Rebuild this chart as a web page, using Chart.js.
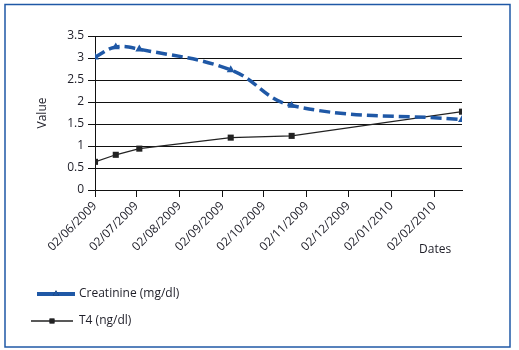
<!DOCTYPE html>
<html>
<head>
<meta charset="utf-8">
<script src="https://cdn.jsdelivr.net/npm/chart.js@4.4.1/dist/chart.umd.min.js"></script>
<style>
  html, body { margin: 0; padding: 0; background: #fff; }
</style>
</head>
<body>
<canvas id="chart" width="519" height="350"></canvas>
<script>
// sample dates and measured values
const sampleDates = ["2009-06-02", "2009-06-17", "2009-07-04", "2009-09-08", "2009-10-22", "2010-02-22"];
const creatinine = [3.02, 3.25, 3.2, 2.73, 1.92, 1.6];
const t4 = [0.64, 0.8, 0.94, 1.19, 1.23, 1.78];

// x axis tick labels (dd/mm/yyyy) and their dates
const tickLabels = ["02/06/2009", "02/07/2009", "02/08/2009", "02/09/2009", "02/10/2009",
  "02/11/2009", "02/12/2009", "02/01/2010", "02/02/2010"];
const tickDates = ["2009-06-02", "2009-07-02", "2009-08-02", "2009-09-02", "2009-10-02",
  "2009-11-02", "2009-12-02", "2010-01-02", "2010-02-02"];

const startDay = Date.UTC(2009, 5, 2);
function dayOf(s) {
  const p = s.split("-").map(Number);
  return (Date.UTC(p[0], p[1] - 1, p[2]) - startDay) / 86400000;
}
const tickDays = tickDates.map(dayOf);
const sampleDays = sampleDates.map(dayOf);

const blue = "#1f58a6";
const textColor = "#1e1e28";
const font = "'Open Sans', sans-serif";

const chartData = {
  datasets: [
    {
      label: "Creatinine (mg/dl)",
      data: sampleDays.map((d, i) => ({ x: d, y: creatinine[i] })),
      borderColor: blue,
      backgroundColor: blue,
      borderWidth: 3.5,
      borderDash: [11, 5],
      tension: 0.4,
      pointStyle: "triangle",
      pointRadius: 4.6,
      pointBorderWidth: 0,
    },
    {
      label: "T4 (ng/dl)",
      data: sampleDays.map((d, i) => ({ x: d, y: t4[i] })),
      borderColor: "#222",
      backgroundColor: "#222",
      borderWidth: 1.2,
      tension: 0,
      pointStyle: "rect",
      pointRadius: 4.3,
      pointBorderWidth: 0,
    },
  ],
};

// frame, axis titles and the legend at the bottom left
const decorations = {
  id: "decorations",
  beforeDraw(chart) {
    const ctx = chart.ctx;
    ctx.save();
    ctx.fillStyle = "#fff";
    ctx.fillRect(0, 0, chart.width, chart.height);
    ctx.strokeStyle = blue;
    ctx.lineWidth = 1.5;
    ctx.strokeRect(5, 4.5, 505, 342.5);
    ctx.restore();
  },
  afterDraw(chart) {
    const ctx = chart.ctx;
    ctx.save();
    ctx.fillStyle = textColor;
    ctx.font = "12px " + font;
    ctx.textBaseline = "middle";

    // y title
    ctx.save();
    ctx.translate(43, 113);
    ctx.rotate(-Math.PI / 2);
    ctx.textAlign = "center";
    ctx.fillText("Value", 0, 0);
    ctx.restore();

    // x title
    ctx.textAlign = "left";
    ctx.fillText("Dates", 419, 250);

    // legend
    const rows = [
      { ds: chart.data.datasets[0], x0: 37, x1: 75, y: 294, w: 4 },
      { ds: chart.data.datasets[1], x0: 31, x1: 73, y: 321, w: 1.4 },
    ];
    rows.forEach((r) => {
      ctx.strokeStyle = r.ds.borderColor;
      ctx.lineWidth = r.w;
      ctx.beginPath();
      ctx.moveTo(r.x0, r.y);
      ctx.lineTo(r.x1, r.y);
      ctx.stroke();
      Chart.helpers.drawPoint(ctx, {
        pointStyle: r.ds.pointStyle,
        radius: r.ds.pointRadius * 0.8,
        borderWidth: 0,
      }, (r.x0 + r.x1) / 2, r.y);
      ctx.fillStyle = r.ds.backgroundColor;
      ctx.fill();
      ctx.fillStyle = textColor;
      ctx.fillText(r.ds.label, 79, r.y);
    });
    ctx.restore();
  },
};

const config = {
  type: "line",
  data: chartData,
  options: {
    responsive: false,
    animation: false,
    devicePixelRatio: 1,
    layout: { padding: { top: 36, right: 57, left: 0, bottom: 0 } },
    plugins: {
      legend: { display: false },
      tooltip: { enabled: false },
    },
    scales: {
      x: {
        type: "linear",
        min: 0,
        max: sampleDays[sampleDays.length - 1],
        afterBuildTicks(scale) {
          scale.ticks = tickDays.map((v) => ({ value: v }));
        },
        afterFit(scale) {
          scale.height = 160;
        },
        grid: {
          drawOnChartArea: false,
          drawTicks: true,
          tickLength: 7,
          color: "#111",
        },
        border: { color: "#111", width: 1 },
        ticks: {
          autoSkip: false,
          minRotation: 45,
          maxRotation: 45,
          padding: 2,
          color: textColor,
          font: { family: font, size: 12 },
          callback: (v, i) => tickLabels[i],
        },
      },
      y: {
        min: 0,
        max: 3.5,
        afterFit(scale) {
          scale.width = 95;
        },
        grid: {
          color: "#111",
          lineWidth: 1,
          tickLength: 7,
        },
        border: { color: "#111", width: 1 },
        ticks: {
          stepSize: 0.5,
          padding: 4,
          color: textColor,
          font: { family: font, size: 12 },
          callback: (v) => String(v),
        },
      },
    },
  },
  plugins: [decorations],
};

const chart = new Chart(document.getElementById("chart"), config);
</script>
</body>
</html>
